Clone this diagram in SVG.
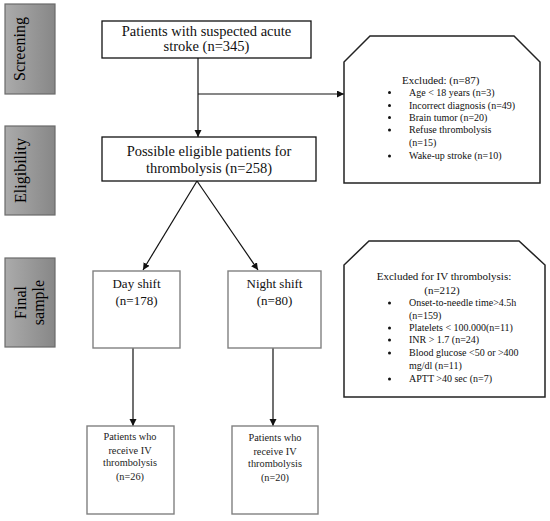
<svg xmlns="http://www.w3.org/2000/svg" width="550" height="521" viewBox="0 0 550 521">
<style>
.lbl{fill:url(#g);stroke:#6a6a6a;stroke-width:1.2}
.lt{font-family:"Liberation Serif",serif;font-size:16px;fill:#000}
.box{fill:#fff;stroke:#111;stroke-width:1.3}
.gbox{fill:#fff;stroke:#808080;stroke-width:1.4}
.ex{fill:#fff;stroke:#222;stroke-width:1.5}
.t14{font-family:"Liberation Serif",serif;font-size:14.5px;fill:#111;text-anchor:middle}
.t13{font-family:"Liberation Serif",serif;font-size:13px;fill:#111;text-anchor:middle}
.t10{font-family:"Liberation Serif",serif;font-size:10.3px;fill:#222;text-anchor:middle}
.th{font-family:"Liberation Serif",serif;font-size:11px;fill:#111}
.ti{font-family:"Liberation Serif",serif;font-size:10px;fill:#111}
.con{fill:none;stroke:#111;stroke-width:1.2}
.bul{fill:#111}
</style>
<defs>
<linearGradient id="g" x1="0" y1="0" x2="1" y2="0">
<stop offset="0" stop-color="#ababab"/>
<stop offset="1" stop-color="#878787"/>
</linearGradient>
<marker id="ah" markerWidth="8" markerHeight="8" refX="7" refY="3.5" orient="auto" markerUnits="userSpaceOnUse">
<path d="M0,0 L7,3.5 L0,7 z" fill="#111"/>
</marker>
</defs>
<rect width="550" height="521" fill="#fff"/>

<g id="stage-screening">
<rect class="lbl" x="5" y="4" width="50" height="90"/>
<text class="lt" transform="translate(25,49) rotate(-90)" text-anchor="middle">Screening</text>
</g>
<g id="stage-eligibility">
<rect class="lbl" x="5" y="126" width="50" height="89"/>
<text class="lt" transform="translate(26,170.5) rotate(-90)" text-anchor="middle">Eligibility</text>
</g>
<g id="stage-final">
<rect class="lbl" x="5" y="258" width="50" height="89"/>
<text class="lt" transform="translate(25.5,302.5) rotate(-90)" text-anchor="middle">Final</text>
<text class="lt" transform="translate(43.5,302.5) rotate(-90)" text-anchor="middle">sample</text>
</g>

<g id="connectors">
<line class="con" x1="198" y1="58" x2="198" y2="137" marker-end="url(#ah)"/>
<line class="con" x1="198" y1="94" x2="344" y2="94" marker-end="url(#ah)"/>
<line class="con" x1="197" y1="181" x2="143" y2="270" marker-end="url(#ah)"/>
<line class="con" x1="197" y1="181" x2="258" y2="270" marker-end="url(#ah)"/>
<line class="con" x1="133" y1="348" x2="133" y2="426" marker-end="url(#ah)"/>
<line class="con" x1="273" y1="348" x2="273" y2="426" marker-end="url(#ah)"/>
</g>

<g id="node-suspected">
<rect class="box" x="102" y="21" width="209" height="37"/>
<text class="t14" x="206.5" y="36">Patients with suspected acute</text>
<text class="t14" x="206.5" y="51">stroke (n=345)</text>
</g>

<g id="node-eligible">
<rect class="box" x="102" y="137" width="214" height="44"/>
<text class="t14" x="209" y="156">Possible eligible patients for</text>
<text class="t14" x="209" y="173">thrombolysis (n=258)</text>
</g>

<g id="node-excluded1">
<path class="ex" d="M370,36 L514,36 L540,62 L540,183 L344,183 L344,62 Z"/>
<text class="th" x="402" y="83.5">Excluded: (n=87)</text>
<circle class="bul" cx="389.5" cy="92.5" r="1.5"/>
<text class="ti" x="409" y="95.5">Age &lt; 18 years (n=3)</text>
<circle class="bul" cx="389.5" cy="105.5" r="1.5"/>
<text class="ti" x="409" y="108.5">Incorrect diagnosis (n=49)</text>
<circle class="bul" cx="389.5" cy="117.5" r="1.5"/>
<text class="ti" x="409" y="120.5">Brain tumor (n=20)</text>
<circle class="bul" cx="389.5" cy="130" r="1.5"/>
<text class="ti" x="409" y="133">Refuse thrombolysis</text>
<text class="ti" x="409" y="145.5">(n=15)</text>
<circle class="bul" cx="389.5" cy="156" r="1.5"/>
<text class="ti" x="409" y="159">Wake-up stroke (n=10)</text>
</g>

<g id="node-excluded2">
<path class="ex" d="M369,241 L519,241 L545,265 L545,397 L344,397 L344,265 Z"/>
<text class="th" x="444" y="279.5" text-anchor="middle">Excluded for IV thrombolysis:</text>
<text class="th" x="442" y="294" text-anchor="middle">(n=212)</text>
<circle class="bul" cx="389.5" cy="303" r="1.5"/>
<text class="ti" x="409" y="306">Onset-to-needle time&gt;4.5h</text>
<text class="ti" x="409" y="318.5">(n=159)</text>
<circle class="bul" cx="389.5" cy="328" r="1.5"/>
<text class="ti" x="409" y="331">Platelets &lt; 100.000(n=11)</text>
<circle class="bul" cx="389.5" cy="340" r="1.5"/>
<text class="ti" x="409" y="343">INR &gt; 1.7 (n=24)</text>
<circle class="bul" cx="389.5" cy="353" r="1.5"/>
<text class="ti" x="409" y="356">Blood glucose &lt;50 or &gt;400</text>
<text class="ti" x="409" y="368.5">mg/dl (n=11)</text>
<circle class="bul" cx="389.5" cy="379" r="1.5"/>
<text class="ti" x="409" y="382">APTT &gt;40 sec (n=7)</text>
</g>

<g id="node-day">
<rect class="gbox" x="93" y="271" width="87" height="77"/>
<text class="t13" x="136.5" y="288">Day shift</text>
<text class="t13" x="136.5" y="304.5">(n=178)</text>
</g>

<g id="node-night">
<rect class="gbox" x="228" y="271" width="93" height="77"/>
<text class="t13" x="274.5" y="288">Night shift</text>
<text class="t13" x="274.5" y="304.5">(n=80)</text>
</g>

<g id="node-day-iv">
<rect class="gbox" x="87" y="426" width="87" height="88"/>
<text class="t10" x="130" y="440">Patients who</text>
<text class="t10" x="130" y="453.5">receive IV</text>
<text class="t10" x="130" y="466">thrombolysis</text>
<text class="t10" x="130" y="480">(n=26)</text>
</g>

<g id="node-night-iv">
<rect class="gbox" x="232" y="426" width="86" height="88"/>
<text class="t10" x="275" y="441">Patients who</text>
<text class="t10" x="275" y="454.5">receive IV</text>
<text class="t10" x="275" y="467">thrombolysis</text>
<text class="t10" x="275" y="481">(n=20)</text>
</g>
</svg>
